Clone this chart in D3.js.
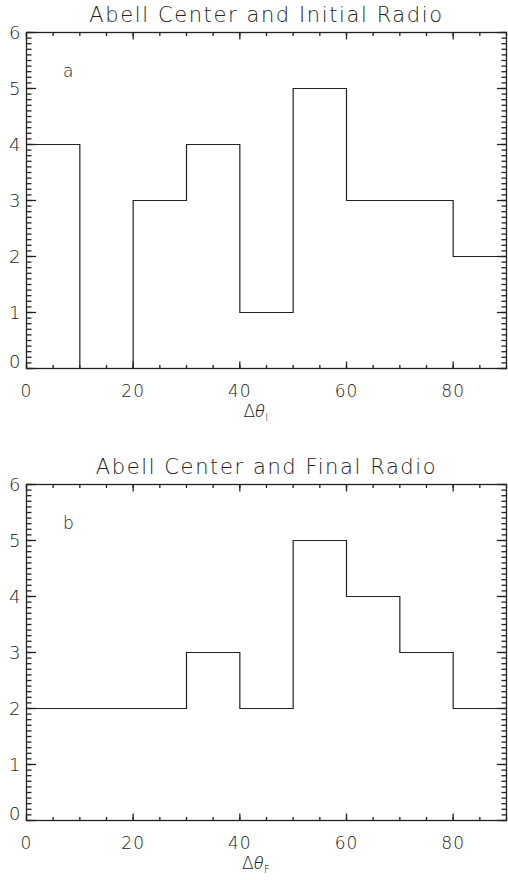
<!DOCTYPE html>
<html>
<head>
<meta charset="utf-8">
<script src="https://cdn.jsdelivr.net/npm/d3@7"></script>
</head>
<body style="margin:0;background:#fff">
<div id="chart"></div>
<script>
// bins are 10 degrees wide, 0..90
var binEdges = [0, 10, 20, 30, 40, 50, 60, 70, 80];
var initialCounts = [4, 0, 3, 4, 1, 5, 3, 3, 2];
var finalCounts = [2, 2, 2, 3, 2, 5, 4, 3, 2];
var xTicks = [0, 20, 40, 60, 80];
var yTicks = [0, 1, 2, 3, 4, 5, 6];
var titles = ["Abell Center and Initial Radio", "Abell Center and Final Radio"];
var panelLetters = ["a", "b"];
var subscripts = ["I", "F"];

var width = 508, height = 880;
var panelShift = 452;
var plotLeft = 26.5, plotRight = 506.5, plotTop = 32.5, plotBottom = 368.5;
var font = '"DejaVu Sans", sans-serif';
var ink = '#222';

var svg = d3.select('#chart').append('svg')
    .attr('width', width).attr('height', height);

var x = d3.scaleLinear().domain([0, 90]).range([plotLeft, plotRight]);

function drawPanel(idx, counts) {
    var g = svg.append('g').attr('transform', 'translate(0,' + (idx * panelShift) + ')');
    var y = d3.scaleLinear().domain([0, 6]).range([plotBottom, plotTop]);

    var xMinor = d3.range(0, 91, 5);
    var yMinor = d3.range(0, 61, 1).map(function (d) { return d / 10; });

    // tick marks drawn inward on all four sides
    function xTickMarks(vals, len) {
        [plotBottom, plotTop].forEach(function (edge) {
            var dir = edge === plotBottom ? -1 : 1;
            g.append('g').selectAll('line').data(vals).join('line')
                .attr('x1', function (d) { return x(d); })
                .attr('x2', function (d) { return x(d); })
                .attr('y1', edge)
                .attr('y2', edge + dir * len)
                .attr('stroke', ink).attr('stroke-width', 1.3);
        });
    }
    function yTickMarks(vals, len) {
        [plotLeft, plotRight].forEach(function (edge) {
            var dir = edge === plotLeft ? 1 : -1;
            g.append('g').selectAll('line').data(vals).join('line')
                .attr('y1', function (d) { return y(d); })
                .attr('y2', function (d) { return y(d); })
                .attr('x1', edge)
                .attr('x2', edge + dir * len)
                .attr('stroke', ink).attr('stroke-width', 1.3);
        });
    }
    xTickMarks(xMinor, 3.5);
    xTickMarks(xTicks, 7);
    yTickMarks(yMinor, 5);
    yTickMarks(yTicks, 9.6);

    // tick labels from d3 axes
    var bottomAx = g.append('g').attr('transform', 'translate(0,' + plotBottom + ')')
        .call(d3.axisBottom(x).tickValues(xTicks).tickSize(0).tickPadding(16)
            .tickFormat(d3.format('d')).offset(0));
    bottomAx.select('.domain').remove();
    bottomAx.selectAll('text').attr('font-size', 17).attr('letter-spacing', 1)
        .attr('font-family', font).attr('font-weight', 200).attr('fill', ink);

    var leftAx = g.append('g').attr('transform', 'translate(' + plotLeft + ',0)')
        .call(d3.axisLeft(y).tickValues(yTicks).tickSize(0)
            .tickFormat(d3.format('d')).offset(0));
    leftAx.select('.domain').remove();
    leftAx.selectAll('text').attr('font-size', 18)
        .attr('font-family', font).attr('font-weight', 200).attr('fill', ink)
        .attr('x', -6)
        .attr('dy', function (d) { return d === 0 ? '-0.05em' : '0.36em'; });

    // box
    g.append('rect')
        .attr('x', plotLeft).attr('y', plotTop)
        .attr('width', plotRight - plotLeft).attr('height', plotBottom - plotTop)
        .attr('fill', 'none').attr('stroke', ink).attr('stroke-width', 1.3);

    // histogram as a step line
    var pts = binEdges.map(function (e, i) { return [e, counts[i]]; });
    pts.push([90, counts[counts.length - 1]]);
    var stepLine = d3.line()
        .x(function (d) { return x(d[0]); })
        .y(function (d) { return y(d[1]); })
        .curve(d3.curveStepAfter);
    g.append('path').datum(pts)
        .attr('d', stepLine)
        .attr('fill', 'none').attr('stroke', ink).attr('stroke-width', 1.2);

    g.append('text')
        .attr('x', (plotLeft + plotRight) / 2).attr('y', 22)
        .attr('text-anchor', 'middle').attr('font-size', 21)
        .attr('font-family', font).attr('font-weight', 200).attr('fill', ink)
        .attr('letter-spacing', 1.6)
        .text(titles[idx]);

    g.append('text')
        .attr('x', 63).attr('y', 77)
        .attr('font-size', 17)
        .attr('font-family', font).attr('font-weight', 200).attr('fill', ink)
        .text(panelLetters[idx]);

    var xt = g.append('text')
        .attr('x', x(43)).attr('y', 417)
        .attr('text-anchor', 'middle').attr('font-size', 17)
        .attr('font-family', font).attr('font-weight', 200).attr('fill', ink);
    xt.append('tspan').text('Δ');
    xt.append('tspan').attr('font-family', '"Noto Sans", sans-serif').attr('font-weight', 300)
        .attr('font-style', 'italic').text('θ');
    xt.append('tspan').attr('font-size', 10).attr('dy', 4).attr('dx', 1).text(subscripts[idx]);
}

drawPanel(0, initialCounts);
drawPanel(1, finalCounts);
</script>
</body>
</html>
